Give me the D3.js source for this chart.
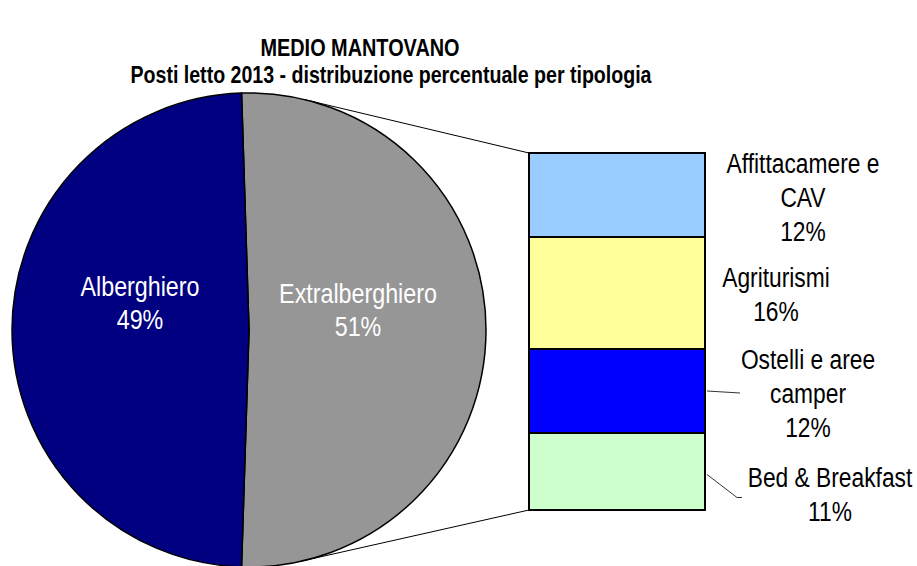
<!DOCTYPE html>
<html>
<head>
<meta charset="utf-8">
<script src="https://cdn.jsdelivr.net/npm/d3@7"></script>
<style>
  html, body { margin: 0; padding: 0; background: #fff; }
  svg { display: block; }
</style>
</head>
<body>
<svg id="chart" width="917" height="566"></svg>
<script>
// main pie
var pieLabels = ["Extralberghiero", "Alberghiero"];
var pieValues = [51, 49];
var pieColors = ["#969696", "#000080"];

// breakdown of Extralberghiero (bar of pie)
var barLabels = [["Affittacamere e", "CAV"], ["Agriturismi"], ["Ostelli e aree", "camper"], ["Bed & Breakfast"]];
var barValues = [12, 16, 12, 11];
var barColors = ["#99CCFF", "#FFFF99", "#0000FF", "#CCFFCC"];

var FONT = "'Liberation Sans', Arial, sans-serif";

var svg = d3.select("#chart");

// layout
var cx = 249, cy = 330, r = 237;
var barX = 529, barW = 176, barTop = 153, barBottom = 510;

// the original uses a narrow face, so text is stretched a little vertically
function stretchedText(parent, x, y, size, weight) {
    return parent.append("text")
        .attr("transform", "translate(" + x + "," + y + ") scale(0.97,1.15)")
        .attr("text-anchor", "middle")
        .style("font-family", FONT)
        .style("font-size", size + "px")
        .style("font-weight", weight || "normal");
}

// title
stretchedText(svg, 360, 56, 20.5, "bold").text("MEDIO MANTOVANO");
stretchedText(svg, 391, 83, 20.2, "bold").text("Posti letto 2013 - distribuzione percentuale per tipologia");

// connector lines, tangent from the bar corners to the pie
function tangentPoint(px, py, side) {
    var dx = px - cx, dy = py - cy,
        d = Math.sqrt(dx * dx + dy * dy),
        th = Math.atan2(dy, dx) + side * Math.acos(r / d);
    return [cx + r * Math.cos(th), cy + r * Math.sin(th)];
}
var t1 = tangentPoint(barX, barTop, -1),
    t2 = tangentPoint(barX, barBottom, 1);
svg.append("line")
    .attr("x1", t1[0]).attr("y1", t1[1]).attr("x2", barX).attr("y2", barTop)
    .style("stroke", "#000").style("stroke-width", 1);
svg.append("line")
    .attr("x1", t2[0]).attr("y1", t2[1]).attr("x2", barX).attr("y2", barBottom)
    .style("stroke", "#000").style("stroke-width", 1);

// pie, with the "other" slice centred on the right
var share = pieValues[0] / d3.sum(pieValues);
var pie = d3.pie().sort(null)
    .startAngle(Math.PI / 2 - share * Math.PI)
    .endAngle(Math.PI / 2 - share * Math.PI + 2 * Math.PI);
var arcs = pie(pieValues);
var arc = d3.arc().innerRadius(0).outerRadius(r);
var labelArc = d3.arc().innerRadius(0).outerRadius(218);

var g = svg.append("g").attr("transform", "translate(" + cx + "," + cy + ")");
g.selectAll("path.slice")
    .data(arcs)
    .enter()
    .append("path")
    .attr("class", "slice")
    .attr("d", arc)
    .style("fill", function(d, i) { return pieColors[i]; })
    .style("stroke", "#000")
    .style("stroke-width", 1.5);

var total = d3.sum(pieValues);
arcs.forEach(function(d, i) {
    var c = labelArc.centroid(d);
    var top = c[1] - 34 + (i === 0 ? 7 : 0);
    stretchedText(g, c[0], top, 24).style("fill", "#fff").text(pieLabels[i]);
    stretchedText(g, c[0], top + 33, 24).style("fill", "#fff")
        .text(Math.round(d.value / total * 100) + "%");
});

// bar of pie
var y = d3.scaleLinear().domain([0, d3.sum(barValues)]).range([barTop, barBottom]);
var stacked = [], run = 0;
barValues.forEach(function(v, i) {
    stacked.push({ i: i, y0: run, y1: run + v, value: v });
    run += v;
});

svg.selectAll("rect.seg")
    .data(stacked)
    .enter()
    .append("rect")
    .attr("class", "seg")
    .attr("x", barX)
    .attr("width", barW)
    .attr("y", function(d) { return y(d.y0); })
    .attr("height", function(d) { return y(d.y1) - y(d.y0); })
    .style("fill", function(d) { return barColors[d.i]; })
    .style("stroke", "#000")
    .style("stroke-width", 2);

// label placement for the bar segments (x centre, vertical shift from segment middle)
var labelPos = [[803, 4], [776, 3], [808, 4], [830, 24]];
var lineGap = 34;
var barTotal = d3.sum(pieValues);

stacked.forEach(function(d) {
    var lines = barLabels[d.i].concat([Math.round(d.value / barTotal * 100) + "%"]);
    var mid = (y(d.y0) + y(d.y1)) / 2 + labelPos[d.i][1];
    var first = mid - (lines.length - 1) * lineGap / 2;
    lines.forEach(function(s, k) {
        stretchedText(svg, labelPos[d.i][0], first + k * lineGap + 8, 23.5).text(s);
    });
});

// leader lines for the two lower labels
var ostMid = (y(stacked[2].y0) + y(stacked[2].y1)) / 2;
svg.append("path")
    .attr("d", "M" + (barX + barW + 2) + "," + ostMid + "L" + 740 + "," + (ostMid + 2))
    .style("fill", "none").style("stroke", "#000").style("stroke-width", 0.8);
var bbMid = (y(stacked[3].y0) + y(stacked[3].y1)) / 2 + 3;
svg.append("path")
    .attr("d", "M" + (barX + barW + 2) + "," + bbMid + "L" + 737 + "," + (bbMid + 23) + "L" + 742 + "," + (bbMid + 23))
    .style("fill", "none").style("stroke", "#000").style("stroke-width", 0.8);
</script>
</body>
</html>
